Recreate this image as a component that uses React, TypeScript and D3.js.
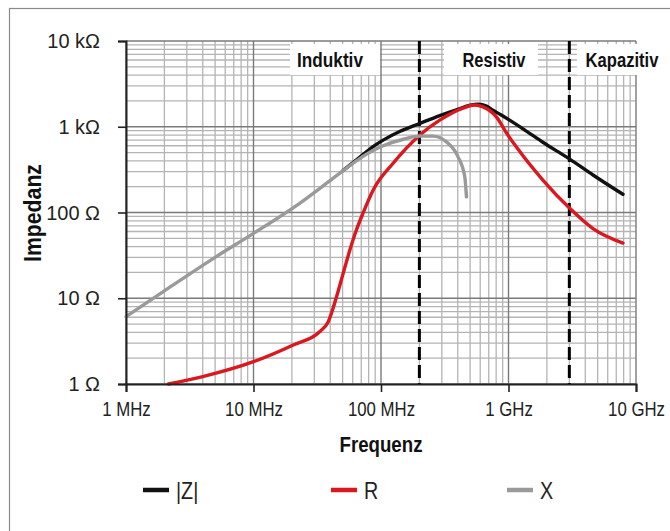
import { useRef, useEffect } from 'react';
import { select, scaleLog, line, curveMonotoneX, axisLeft, axisBottom } from 'd3';

// frequencies in MHz, impedances in Ohm
const zFreq = [50, 68, 85, 104, 140, 201, 289, 400, 500, 577, 671, 755, 870, 1020, 1400, 1860, 2400, 3020, 4600, 7900];
const zVals = [305, 440, 575, 698, 880, 1092, 1350, 1600, 1780, 1833, 1740, 1560, 1380, 1194, 877, 660, 519, 420, 274, 163];

const rFreq = [2.15, 4, 10, 20.5, 33, 38.5, 44.8, 50.5, 57, 64, 72, 86.7, 124, 201, 289, 440, 540, 631, 804, 962, 1150, 1860, 3020, 4600, 7900];
const rVals = [1, 1.22, 1.82, 2.85, 4.07, 5.3, 10.4, 19.5, 36.5, 62, 97, 182, 373, 798, 1194, 1650, 1790, 1706, 1304, 850, 583, 239, 112, 65, 44];

const xFreq = [1, 2, 5, 10, 23, 42, 68, 85, 104, 150, 201, 255, 326, 402, 454, 468];
const xVals = [6.1, 12.2, 30, 57, 128, 250, 425, 520, 600, 715, 777, 777, 667, 446, 261, 152];

const xTicks = [1, 10, 100, 1000, 10000];
const xTickLabels = ['1 MHz', '10 MHz', '100 MHz', '1 GHz', '10 GHz'];
const yTicks = [1, 10, 100, 1000, 10000];
const yTickLabels = ['1 Ω', '10 Ω', '100 Ω', '1 kΩ', '10 kΩ'];

const regionBounds = [200, 3000]; // dashed separators, MHz
const regionLabels = ['Induktiv', 'Resistiv', 'Kapazitiv'];

const seriesNames = ['|Z|', 'R', 'X'];
const seriesColors = ['#111111', '#d9181f', '#9a9a9a'];

const FONT = '"Liberation Sans", Arial, sans-serif';

// squeeze a text to look like a narrow font
function condense(sel: any, factor = 0.82) {
  sel.each(function (this: SVGTextElement) {
    const w = this.getComputedTextLength();
    this.setAttribute('textLength', String(w * factor));
    this.setAttribute('lengthAdjust', 'spacingAndGlyphs');
  });
}

const App = () => {
  const svgRef = useRef<SVGSVGElement>(null);

  useEffect(() => {
    const svg = select(svgRef.current);
    svg.selectAll('*').remove();

    const x = scaleLog().domain([1, 10000]).range([126, 636]);
    const y = scaleLog().domain([1, 10000]).range([384, 41]);
    const [x0, x1] = x.range();
    const [y1, y0] = y.range();

    svg.append('rect').attr('width', 670).attr('height', 531).attr('fill', '#fff');
    svg.append('rect')
      .attr('x', 9.5).attr('y', 8.5).attr('width', 700).attr('height', 600)
      .attr('fill', 'none').attr('stroke', '#8a8a8a').attr('stroke-width', 1.2);

    // grid
    const grid = svg.append('g');
    const isMajor = (v: number) => Math.abs(Math.log10(v) - Math.round(Math.log10(v))) < 1e-6;
    const xs = x.ticks();
    const ys = y.ticks();
    grid.selectAll('.vx').data(xs.filter((v) => !isMajor(v))).join('line')
      .attr('x1', (d) => x(d)).attr('x2', (d) => x(d)).attr('y1', y0).attr('y2', y1)
      .attr('stroke', '#b4b4b4').attr('stroke-width', 1.3);
    grid.selectAll('.hy').data(ys.filter((v) => !isMajor(v))).join('line')
      .attr('y1', (d) => y(d)).attr('y2', (d) => y(d)).attr('x1', x0).attr('x2', x1)
      .attr('stroke', '#b4b4b4').attr('stroke-width', 1.3);
    grid.selectAll('.vmaj').data(xs.filter(isMajor)).join('line')
      .attr('x1', (d) => x(d)).attr('x2', (d) => x(d)).attr('y1', y0).attr('y2', y1)
      .attr('stroke', '#7a7a7a').attr('stroke-width', 1.4);
    grid.selectAll('.hmaj').data(ys.filter(isMajor)).join('line')
      .attr('y1', (d) => y(d)).attr('y2', (d) => y(d)).attr('x1', x0).attr('x2', x1)
      .attr('stroke', '#7a7a7a').attr('stroke-width', 1.4);

    // region labels on white boxes
    const boxes = [
      { x: 290, w: 90, cx: 330, tw: 66 },
      { x: 444, w: 94, cx: 494, tw: 63 },
      { x: 577, w: 93, cx: 622, tw: 73 },
    ];
    boxes.forEach((b, i) => {
      svg.append('rect').attr('x', b.x).attr('y', 44).attr('width', b.w).attr('height', 31).attr('fill', '#fff');
      const t = svg.append('text')
        .attr('text-anchor', 'middle')
        .attr('font-family', FONT).attr('font-weight', 'bold').attr('font-size', 21)
        .attr('fill', '#111')
        .text(regionLabels[i]);
      const k = b.tw / (t.node() as SVGTextElement).getComputedTextLength();
      t.attr('transform', `translate(${b.cx},67) scale(${k},1)`);
    });

    // dashed separators
    svg.selectAll('.sep').data(regionBounds).join('line')
      .attr('x1', (d) => x(d)).attr('x2', (d) => x(d)).attr('y1', y0).attr('y2', y1)
      .attr('stroke', '#000').attr('stroke-width', 3).attr('stroke-dasharray', '13 5');

    // curves
    const lineGen = line<[number, number]>()
      .x((d) => x(d[0]))
      .y((d) => y(d[1]))
      .curve(curveMonotoneX);
    const series = [
      zFreq.map((f, i) => [f, zVals[i]] as [number, number]),
      rFreq.map((f, i) => [f, rVals[i]] as [number, number]),
      xFreq.map((f, i) => [f, xVals[i]] as [number, number]),
    ];
    series.forEach((s, i) => {
      svg.append('path')
        .attr('d', lineGen(s))
        .attr('fill', 'none')
        .attr('stroke', seriesColors[i])
        .attr('stroke-width', 3.4)
        .attr('stroke-linecap', 'round')
        .attr('stroke-linejoin', 'round');
    });

    // axes
    const yAxis = axisLeft(y).tickValues(yTicks).tickSize(8).tickPadding(18)
      .tickFormat((d, i) => yTickLabels[i]);
    const gy = svg.append('g').attr('transform', `translate(${x0},0)`).call(yAxis);
    const xAxis = axisBottom(x).tickValues(xTicks).tickSize(8).tickPadding(9)
      .tickFormat((d, i) => xTickLabels[i]);
    const gx = svg.append('g').attr('transform', `translate(0,${y1})`).call(xAxis);
    [gx, gy].forEach((g) => {
      g.select('.domain').attr('stroke', '#222').attr('stroke-width', 2);
      g.selectAll('.tick line').attr('stroke', '#222').attr('stroke-width', 1.6);
      g.selectAll('.tick text')
        .attr('font-family', FONT).attr('font-size', 21).attr('fill', '#222');
    });
    // narrow x labels by scaling around the tick (anchor is middle, x = 0)
    gx.selectAll('.tick text').attr('transform', 'scale(0.8,1)');
    condense(gy.selectAll('.tick text'), 0.95);

    // axis titles
    svg.append('text')
      .attr('transform', 'translate(41,213) rotate(-90)')
      .attr('text-anchor', 'middle')
      .attr('font-family', FONT).attr('font-weight', 'bold').attr('font-size', 23)
      .attr('fill', '#111')
      .attr('textLength', 98).attr('lengthAdjust', 'spacingAndGlyphs')
      .text('Impedanz');
    svg.append('text')
      .attr('x', 381).attr('y', 452)
      .attr('text-anchor', 'middle')
      .attr('font-family', FONT).attr('font-weight', 'bold').attr('font-size', 22)
      .attr('fill', '#111')
      .attr('textLength', 83).attr('lengthAdjust', 'spacingAndGlyphs')
      .text('Frequenz');

    // legend
    const legendX = [143, 331, 507];
    legendX.forEach((lx, i) => {
      svg.append('line')
        .attr('x1', lx).attr('x2', lx + 26).attr('y1', 490).attr('y2', 490)
        .attr('stroke', seriesColors[i]).attr('stroke-width', 4.5);
      const t = svg.append('text')
        .attr('x', lx + 33).attr('y', 498.5)
        .attr('font-family', FONT).attr('font-size', 24).attr('fill', '#222')
        .text(seriesNames[i]);
      condense(t);
    });
  }, []);

  return (
    <svg
      ref={svgRef}
      width={670}
      height={531}
      style={{ position: 'absolute', left: 0, top: 0 }}
    />
  );
};

export default App;
